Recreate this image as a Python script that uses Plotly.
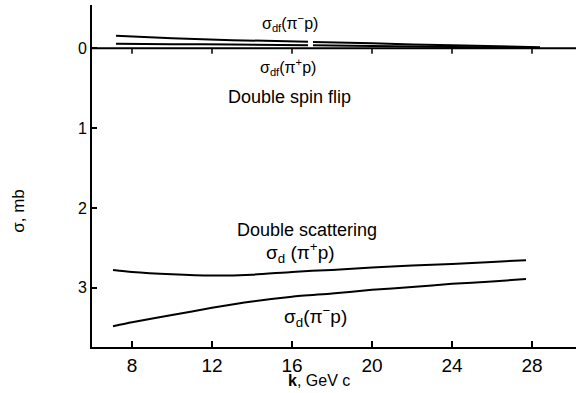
import plotly.graph_objects as go

# Double-scattering cross sections vs. photon momentum k
k_d = [7.05, 8, 10, 12, 14, 16, 18, 20, 22, 24, 26, 27.7]
sigma_d_pip = [2.775, 2.80, 2.83, 2.846, 2.835, 2.80, 2.775, 2.746, 2.72, 2.70, 2.675, 2.654]
sigma_d_pim = [3.48, 3.43, 3.34, 3.25, 3.17, 3.11, 3.07, 3.025, 2.99, 2.95, 2.92, 2.89]

# Double spin flip cross sections (small, plotted just above zero)
k_df = [7.2, 10, 13, 16.8, None, 17.05, 20, 24, 28.4]
sigma_df_pim = [-0.155, -0.125, -0.10, -0.08, None, -0.078, -0.06, -0.035, -0.012]
sigma_df_pip = [-0.055, -0.05, -0.045, -0.037, None, -0.036, -0.028, -0.015, -0.003]

x_ticks = [8, 12, 16, 20, 24, 28]
y_ticks = [0, 1, 2, 3]
x_range = [6, 30.2]
y_range = [3.74, -0.54]

FONT = "Liberation Sans"
line_style = dict(color="black", width=2, shape="spline", smoothing=0.6)

fig = go.Figure()
for xs, ys in [(k_d, sigma_d_pip), (k_d, sigma_d_pim),
               (k_df, sigma_df_pim), (k_df, sigma_df_pip)]:
    fig.add_trace(go.Scatter(x=xs, y=ys, mode="lines", line=line_style,
                             connectgaps=False, showlegend=False, hoverinfo="skip"))

# zero line across the plot, with short downward ticks at the k ticks
fig.add_trace(go.Scatter(x=x_range, y=[0, 0], mode="lines",
                         line=dict(color="black", width=2),
                         showlegend=False, hoverinfo="skip"))
fig.add_trace(go.Scatter(
    x=x_ticks, y=[0] * len(x_ticks), mode="markers",
    marker=dict(size=1, color="black"),
    error_y=dict(type="data", symmetric=False, array=[0.07] * len(x_ticks),
                 arrayminus=[0] * len(x_ticks), width=0, thickness=1.5, color="black"),
    showlegend=False, hoverinfo="skip"))

fig.update_layout(
    width=576, height=393,
    margin=dict(l=92, r=0, t=5, b=46),
    paper_bgcolor="white", plot_bgcolor="white",
    font=dict(family=FONT, color="black"),
    xaxis=dict(range=x_range, tickvals=x_ticks, ticks="inside", ticklen=6,
               tickwidth=1.5, tickcolor="black", showline=True, linecolor="black",
               linewidth=2, showgrid=False, zeroline=False,
               tickfont=dict(size=19, family=FONT), ticklabelstandoff=0),
    yaxis=dict(range=y_range, tickvals=y_ticks, ticks="inside", ticklen=5,
               tickwidth=1.5, tickcolor="black", showline=True, linecolor="black",
               linewidth=2, showgrid=False, zeroline=False,
               tickfont=dict(size=16, family=FONT)),
)

labels = [
    ("σ<sub>df</sub>(π<sup>−</sup>p)", 15.9, -0.31, 16),
    ("σ<sub>df</sub>(π<sup>+</sup>p)", 15.8, 0.24, 16),
    ("Double spin flip", 15.85, 0.61, 18),
    ("Double scattering", 16.75, 2.275, 18),
    ("σ<sub>d</sub> (π<sup>+</sup>p)", 16.4, 2.56, 19),
    ("σ<sub>d</sub>(π<sup>−</sup>p)", 17.15, 3.36, 19),
]
for text, x, y, size in labels:
    fig.add_annotation(x=x, y=y, xref="x", yref="y", text=text, showarrow=False,
                       xanchor="center", yanchor="middle",
                       font=dict(size=size, family=FONT, color="black"))

fig.add_annotation(x=17.35, y=-0.099, xref="x", yref="paper", text="<b>k</b>, GeV c",
                   showarrow=False, xanchor="center", yanchor="middle",
                   font=dict(size=16, family=FONT, color="black"))
fig.add_annotation(x=-0.152, y=2.03, xref="paper", yref="y", text="σ, mb", textangle=-90,
                   showarrow=False, xanchor="center", yanchor="middle",
                   font=dict(size=17, family=FONT, color="black"))

fig.write_html("out.html")
